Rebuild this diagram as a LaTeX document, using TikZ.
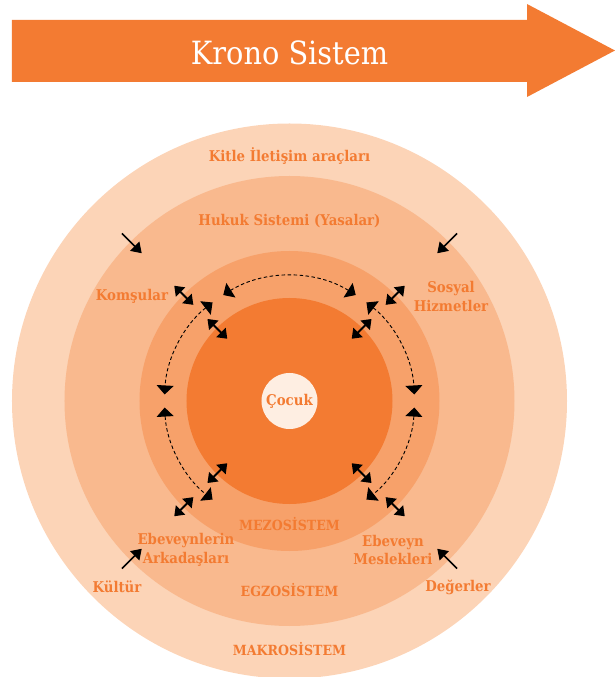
\documentclass[tikz,border=0pt]{standalone}
\usepackage{fontspec}
\usepackage{xcolor}
\usepackage{tikz}
\usetikzlibrary{positioning,calc,arrows.meta}
\newfontfamily\kronofont{DejaVuSerifCondensed.ttf}
\newfontfamily\etiketfont{DejaVuSerifCondensed-Bold.ttf}
\definecolor{turuncu}{RGB}{243,123,50}
\definecolor{mezorenk}{RGB}{247,161,106}
\definecolor{egzorenk}{RGB}{249,185,142}
\definecolor{makrorenk}{RGB}{252,212,183}
\definecolor{cocukrenk}{RGB}{254,238,226}

\begin{document}
\begin{tikzpicture}[x=1pt,y=1pt,
    halka/.style={circle, inner sep=0pt, minimum size=#1},
    etiket/.style={text=turuncu, font=\etiketfont\fontsize{14.8}{18.5}\selectfont, align=center},
    sistem/.style={etiket, font=\etiketfont\fontsize{14}{17}\selectfont},
    tek/.style={-{Triangle[length=10pt,width=13pt]}, line width=1.5pt},
    cift/.style={{Triangle[length=9pt,width=13pt]}-{Triangle[length=9pt,width=13pt]}, line width=1.8pt},
    kesik/.style={dash pattern=on 3.5pt off 2.5pt, line width=0.9pt,
      {Triangle[length=9pt,width=17pt]}-{Triangle[length=9pt,width=17pt]}}]
    \useasboundingbox (-289.5,-276) rectangle (325.5,401);
    % Krono Sistem arrow
    \fill[turuncu] (-277.5,381) -- (237.5,381) -- (237.5,397) -- (325.5,350.5)
          -- (237.5,304) -- (237.5,319) -- (-277.5,319) -- cycle;
    \node[text=white, font=\kronofont\fontsize{32}{36}\selectfont] (krono) at (0,348) {Krono Sistem};
    % circles
    \node[halka=555pt, fill=makrorenk] (makro) at (0,0) {};
    \node[halka=450pt, fill=egzorenk] (egzo) at (0,0) {};
    \node[halka=300pt, fill=mezorenk] (mezo) at (0,0) {};
    \node[halka=206pt, fill=turuncu] (mikro) at (0,0) {};
    \node[halka=56pt, fill=cocukrenk, etiket] (cocuk) at (0,0) {Çocuk};
    % labels
    \node[etiket] (kitle) at (0,245) {Kitle İletişim araçları};
    \node[etiket] (hukuk) at (0,180) {Hukuk Sistemi (Yasalar)};
    \node[etiket] (komsu) at (-157.5,105) {Komşular};
    \node[etiket] (sosyal) at (161.5,104.5) {Sosyal\\Hizmetler};
    \node[sistem] (mezolbl) at (0,-123) {MEZOSİSTEM};
    \node[etiket] (arkadas) at (-103.5,-149) {Ebeveynlerin\\Arkadaşları};
    \node[etiket] (meslek) at (103.5,-149) {Ebeveyn\\Meslekleri};
    \node[etiket] (kultur) at (-172.5,-186) {Kültür};
    \node[sistem] (egzolbl) at (0,-189) {EGZOSİSTEM};
    \node[etiket] (deger) at (168.5,-186) {Değerler};
    \node[sistem] (makrolbl) at (0,-248) {MAKROSİSTEM};
    % single arrows
    \draw[tek] (135:237) -- (135:209);
    \draw[tek] (45:237) -- (45:209);
    \draw[tek] (225:237) -- (225:209);
    \draw[tek] (315:237) -- (315:209);
    % double arrows
    \draw[cift] (135:163) -- (135:136);
    \draw[cift] (135:116) -- (135:88);
    \draw[cift] (45:163) -- (45:136);
    \draw[cift] (45:116) -- (45:88);
    \draw[cift] (225:163) -- (225:136);
    \draw[cift] (225:116) -- (225:88);
    \draw[cift] (315:163) -- (315:136);
    \draw[cift] (315:116) -- (315:88);
    % dashed arcs
    \draw[kesik] (58:125) arc[start angle=58, end angle=122, radius=125];
    \draw[kesik] (128:125) arc[start angle=128, end angle=177, radius=125];
    \draw[kesik] (183:125) arc[start angle=183, end angle=232, radius=125];
    \draw[kesik] (52:125) arc[start angle=52, end angle=3, radius=125];
    \draw[kesik] (-3:125) arc[start angle=-3, end angle=-52, radius=125];
\end{tikzpicture}
\end{document}
